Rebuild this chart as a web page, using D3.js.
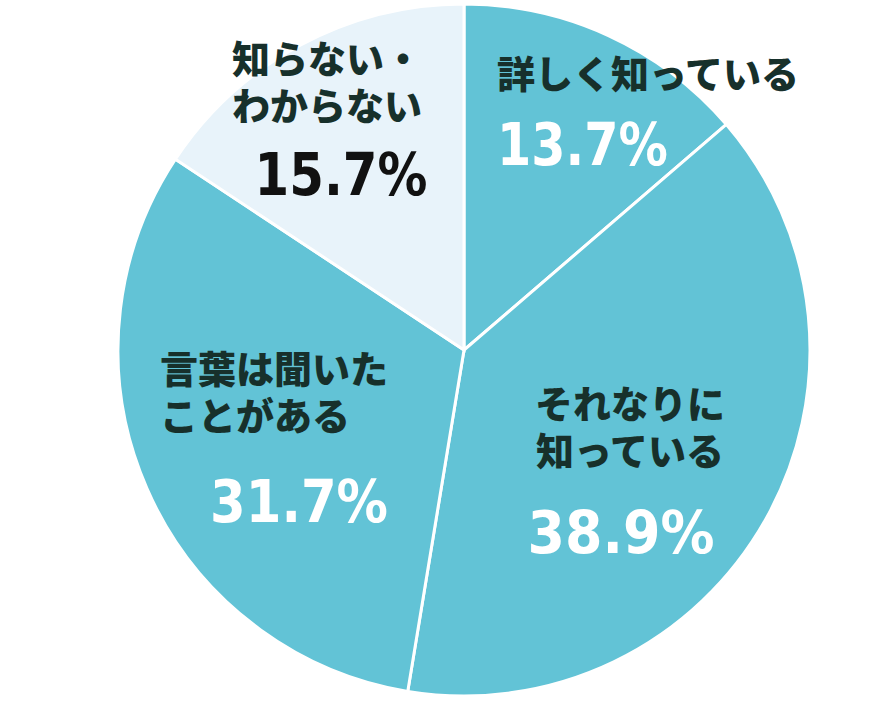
<!DOCTYPE html>
<html><head><meta charset="utf-8">
<script src="https://cdn.jsdelivr.net/npm/d3@7"></script>
<style>body{margin:0;background:#fff}</style>
</head><body>
<script>
var width = 880,
    height = 702,
    cx = 464, cy = 350, radius = 346;

// data
var categories = ["詳しく知っている", "それなりに知っている", "言葉は聞いたことがある", "知らない・わからない"],
    values = [13.7, 38.9, 31.7, 15.7],
    colors = ["#62c3d6", "#62c3d6", "#62c3d6", "#e8f3fa"],
    labelLines = [["詳しく知っている"], ["それなりに", "知っている"], ["言葉は聞いた", "ことがある"], ["知らない・", "わからない"]],
    pctLabels = ["13.7%", "38.9%", "31.7%", "15.7%"];

// label placement (relative to centre)
var labelPos = [
  {x: 33, y: -262, anchor: "start", pctX: 33, pctY: -185, pctAnchor: "start", pctColor: "#fff", pctW: 171},
  {x: 166, y: 68, anchor: "middle", pctX: 157, pctY: 203, pctAnchor: "middle", pctColor: "#fff", pctW: 187},
  {x: -304, y: 33, anchor: "start", pctX: -165, pctY: 172, pctAnchor: "middle", pctColor: "#fff", pctW: 178},
  {x: -232, y: -277, anchor: "start", pctX: -123, pctY: -155, pctAnchor: "middle", pctColor: "#111", pctW: 173}
];

var svg = d3.select("body").append("svg")
    .attr("width", width).attr("height", height);

var g = svg.append("g").attr("transform", "translate(" + cx + "," + cy + ")");

var pie = d3.pie().sort(null).value(function(d) { return d; });
var arc = d3.arc().innerRadius(0).outerRadius(radius);

g.selectAll("path")
  .data(pie(values))
  .enter().append("path")
  .attr("d", arc)
  .attr("fill", function(d, i) { return colors[i]; })
  .attr("stroke", "#fff")
  .attr("stroke-width", 3);

labelPos.forEach(function(p, i) {
  var t = g.append("text")
    .attr("x", p.x).attr("y", p.y)
    .attr("text-anchor", p.anchor)
    .attr("font-family", "'Noto Sans CJK JP', sans-serif")
    .attr("font-weight", 900)
    .attr("font-size", 38)
    .attr("fill", "#17302b");
  labelLines[i].forEach(function(line, j) {
    t.append("tspan").attr("x", p.x).attr("dy", j ? 47 : 0).text(line);
  });
  g.append("text")
    .attr("x", p.pctX).attr("y", p.pctY)
    .attr("text-anchor", p.pctAnchor)
    .attr("font-family", "'DejaVu Sans', sans-serif")
    .attr("font-weight", 700)
    .attr("font-size", 58)
    .attr("textLength", p.pctW)
    .attr("lengthAdjust", "spacingAndGlyphs")
    .attr("fill", p.pctColor)
    .text(pctLabels[i]);
});
</script>
</body></html>
